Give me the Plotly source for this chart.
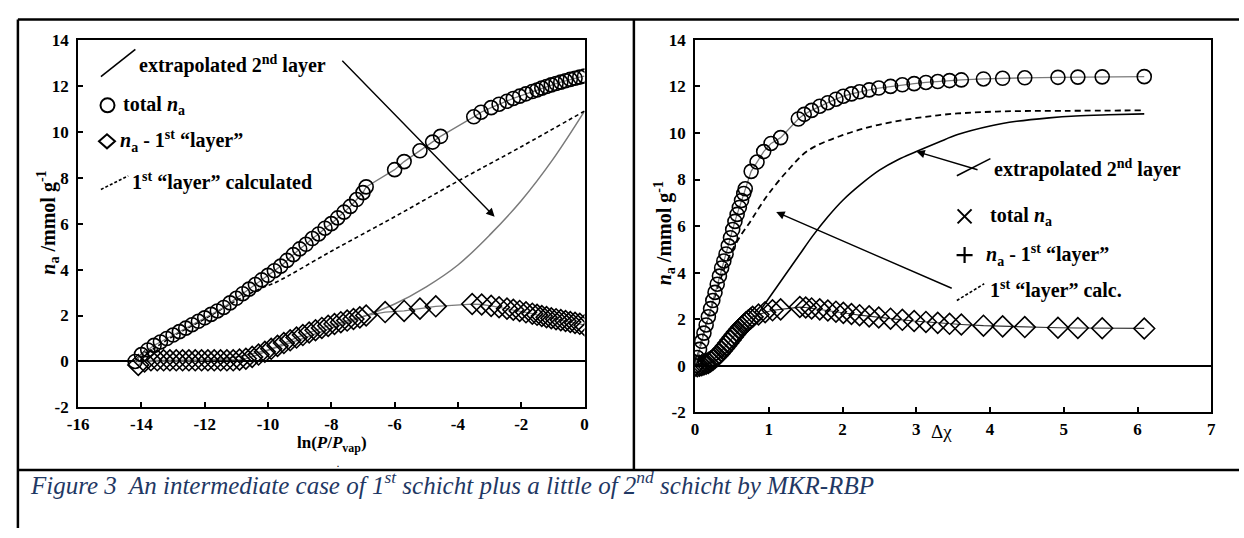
import plotly.graph_objects as go

# ---------------- Left panel data: n_a vs ln(P/Pvap) ----------------
lnp_total = [-14.2, -14.0, -13.8, -13.6, -13.4, -13.2, -13.0, -12.8, -12.6, -12.4,
             -12.2, -12.0, -11.8, -11.6, -11.4, -11.2, -11.0, -10.8, -10.6, -10.4,
             -10.2, -10.0, -9.8, -9.6, -9.4, -9.2, -9.0, -8.8, -8.6, -8.4,
             -8.2, -8.0, -7.8, -7.6, -7.4, -7.2, -7.0, -6.9,
             -6.0, -5.7, -5.2, -4.8, -4.55,
             -3.5, -3.27, -2.95, -2.7, -2.45, -2.25, -2.05, -1.85, -1.65, -1.5,
             -1.35, -1.2, -1.05, -0.9, -0.75, -0.6, -0.45, -0.3, -0.15, 0.0]
na_total_left = [0.0, 0.3, 0.5, 0.7, 0.85, 1.0, 1.15, 1.3, 1.45, 1.6,
                 1.75, 1.9, 2.05, 2.2, 2.35, 2.55, 2.75, 2.95, 3.15, 3.35,
                 3.55, 3.75, 3.95, 4.15, 4.4, 4.65, 4.9, 5.1, 5.35, 5.55,
                 5.8, 6.0, 6.25, 6.5, 6.75, 7.05, 7.35, 7.6,
                 8.35, 8.7, 9.17, 9.55, 9.8,
                 10.65, 10.85, 11.05, 11.2, 11.33, 11.45, 11.55, 11.65, 11.75, 11.82,
                 11.9, 11.97, 12.04, 12.1, 12.16, 12.22, 12.28, 12.33, 12.38, 12.42]

lnp_second = [-14.1, -13.9, -13.7, -13.5, -13.3, -13.1, -12.9, -12.7, -12.5, -12.3,
              -12.1, -11.9, -11.7, -11.5, -11.3, -11.1, -10.9, -10.7, -10.5, -10.3,
              -10.1, -9.9, -9.7, -9.5, -9.3, -9.1, -8.9, -8.7, -8.5, -8.3,
              -8.1, -7.9, -7.7, -7.5, -7.3, -7.1, -6.9,
              -6.3, -5.7, -5.2, -4.7,
              -3.55, -3.25, -2.95, -2.7, -2.45, -2.25, -2.05, -1.85, -1.65, -1.5,
              -1.35, -1.2, -1.05, -0.9, -0.75, -0.6, -0.45, -0.3, -0.15, 0.0]
na_second_left = [-0.15, 0.0, 0.05, 0.05, 0.05, 0.05, 0.05, 0.05, 0.05, 0.05,
                  0.05, 0.05, 0.05, 0.05, 0.05, 0.05, 0.08, 0.12, 0.2, 0.3,
                  0.42, 0.55, 0.68, 0.8, 0.92, 1.04, 1.15, 1.26, 1.36, 1.46,
                  1.55, 1.63, 1.71, 1.78, 1.85, 1.92, 2.0,
                  2.15, 2.2, 2.3, 2.4,
                  2.5, 2.48, 2.42, 2.36, 2.3, 2.25, 2.2, 2.14, 2.08, 2.03,
                  1.98, 1.93, 1.88, 1.84, 1.8, 1.76, 1.72, 1.68, 1.64, 1.58]

lnp_first_calc = [-14.2, -13.0, -12.0, -11.0, -10.2, -9.73, -8.0, -6.0, -4.0, -2.0, 0.0]
na_first_calc_left = [0.0, 1.1, 1.85, 2.65, 3.2, 3.46, 4.8, 6.3, 7.85, 9.35, 10.9]

lnp_extrap = [-14.2, -13.0, -12.0, -11.0, -10.0, -9.0, -8.0, -7.0, -6.0, -5.0,
              -4.0, -3.0, -2.0, -1.0, 0.0]
na_extrap_left = [0.0, 0.02, 0.05, 0.2, 0.5, 0.95, 1.45, 1.95, 2.5, 3.25,
                  4.2, 5.5, 7.0, 8.8, 10.9]

# ---------------- Right panel data: n_a vs delta chi ----------------
dchi_total = [0.0, 0.03, 0.06, 0.09, 0.12, 0.15, 0.18, 0.21, 0.24, 0.27,
              0.30, 0.33, 0.36, 0.39, 0.42, 0.45, 0.48, 0.51, 0.54, 0.57,
              0.60, 0.63, 0.66, 0.68,
              0.76, 0.84, 0.93, 1.03, 1.16,
              1.40, 1.48, 1.58, 1.69, 1.80, 1.91, 2.01, 2.12, 2.23, 2.36,
              2.49, 2.65, 2.81, 2.97, 3.13, 3.29, 3.45, 3.61, 3.91, 4.17,
              4.47, 4.92, 5.19, 5.52, 6.09]
na_total_right = [0.0, 0.35, 0.7, 1.05, 1.4, 1.75, 2.1, 2.45, 2.8, 3.15,
                  3.5, 3.85, 4.2, 4.5, 4.8, 5.15, 5.5, 5.85, 6.2, 6.5,
                  6.8, 7.1, 7.4, 7.6,
                  8.35, 8.75, 9.2, 9.55, 9.8,
                  10.6, 10.8, 10.97, 11.15, 11.3, 11.45, 11.58, 11.68, 11.77, 11.85,
                  11.93, 12.0, 12.07, 12.12, 12.17, 12.21, 12.25, 12.28, 12.32, 12.35,
                  12.37, 12.39, 12.4, 12.41, 12.42]

dchi_second = [0.0, 0.03, 0.06, 0.09, 0.12, 0.15, 0.18, 0.21, 0.24, 0.27,
               0.30, 0.33, 0.36, 0.39, 0.42, 0.45, 0.48, 0.51, 0.54, 0.57,
               0.60, 0.63, 0.66, 0.69, 0.72, 0.75, 0.78,
               0.86, 0.95, 1.05, 1.16,
               1.42, 1.50, 1.58, 1.69, 1.80, 1.91, 2.01, 2.12, 2.23, 2.36,
               2.49, 2.65, 2.81, 2.97, 3.13, 3.29, 3.45, 3.61, 3.91, 4.17,
               4.47, 4.92, 5.19, 5.52, 6.09]
na_second_right = [0.0, -0.02, 0.0, 0.02, 0.05, 0.08, 0.12, 0.18, 0.25, 0.33,
                   0.42, 0.52, 0.63, 0.74, 0.86, 0.98, 1.1, 1.22, 1.34, 1.46,
                   1.57, 1.67, 1.77, 1.86, 1.94, 2.02, 2.1,
                   2.2, 2.3, 2.38, 2.42,
                   2.52, 2.5, 2.46, 2.42, 2.37, 2.32, 2.27, 2.22, 2.17, 2.12,
                   2.07, 2.02, 1.97, 1.92, 1.88, 1.84, 1.8, 1.77, 1.72, 1.69,
                   1.66, 1.63, 1.62, 1.61, 1.6]

dchi_first_calc = [0.0, 0.2, 0.45, 0.6, 0.75, 0.86, 1.0, 1.26, 1.53, 1.96,
                   2.49, 3.29, 4.09, 5.0, 6.09]
na_first_calc_right = [0.0, 2.3, 4.6, 5.5, 6.2, 6.75, 7.4, 8.4, 9.24, 9.86,
                       10.35, 10.76, 10.92, 10.95, 10.97]

dchi_extrap = [0.0, 0.2, 0.4, 0.6, 0.8, 1.0, 1.2, 1.4, 1.6, 1.8,
               2.0, 2.25, 2.5, 2.75, 3.0, 3.3, 3.56, 4.0, 4.36, 4.8,
               5.16, 5.6, 6.09]
na_extrap_right = [0.0, 0.1, 0.5, 1.2, 2.0, 2.9, 3.8, 4.7, 5.6, 6.4,
                   7.1, 7.8, 8.4, 8.85, 9.2, 9.6, 9.93, 10.3, 10.5, 10.65,
                   10.73, 10.78, 10.82]

x_ticks_left = [-16, -14, -12, -10, -8, -6, -4, -2, 0]
x_ticks_right = [0, 1, 2, 3, 4, 5, 6, 7]
y_ticks = [-2, 0, 2, 4, 6, 8, 10, 12, 14]

FONT = "Liberation Serif, Times New Roman, serif"
GRAY = "#7a7a7a"
W, H = 1244, 538


def PX(p):
    return p / W


def PY(p):
    return 1 - p / H


fig = go.Figure()

# left traces
fig.add_trace(go.Scatter(x=lnp_extrap, y=na_extrap_left, mode="lines",
                         line=dict(color=GRAY, width=1.5, shape="spline"),
                         xaxis="x", yaxis="y"))
fig.add_trace(go.Scatter(x=lnp_first_calc, y=na_first_calc_left, mode="lines",
                         line=dict(color="black", width=1.6, dash="4px,3px", shape="spline"),
                         xaxis="x", yaxis="y"))
fig.add_trace(go.Scatter(x=lnp_second, y=na_second_left, mode="lines+markers",
                         line=dict(color=GRAY, width=1.3),
                         marker=dict(symbol="diamond-open", size=16, color="black",
                                     line=dict(width=1.6)),
                         xaxis="x", yaxis="y"))
fig.add_trace(go.Scatter(x=lnp_total, y=na_total_left, mode="lines+markers",
                         line=dict(color=GRAY, width=1.3),
                         marker=dict(symbol="circle-open", size=14, color="black",
                                     line=dict(width=1.6)),
                         xaxis="x", yaxis="y"))

# right traces
fig.add_trace(go.Scatter(x=dchi_extrap, y=na_extrap_right, mode="lines",
                         line=dict(color="black", width=1.6, shape="spline"),
                         xaxis="x2", yaxis="y2"))
fig.add_trace(go.Scatter(x=dchi_first_calc, y=na_first_calc_right, mode="lines",
                         line=dict(color="black", width=1.8, dash="6px,4px", shape="spline"),
                         xaxis="x2", yaxis="y2"))
fig.add_trace(go.Scatter(x=dchi_second, y=na_second_right, mode="lines+markers",
                         line=dict(color="#333333", width=1.2),
                         marker=dict(symbol="diamond-open", size=16, color="black",
                                     line=dict(width=1.6)),
                         xaxis="x2", yaxis="y2"))
fig.add_trace(go.Scatter(x=dchi_total, y=na_total_right, mode="lines+markers",
                         line=dict(color=GRAY, width=1.3),
                         marker=dict(symbol="circle-open", size=14, color="black",
                                     line=dict(width=1.6)),
                         xaxis="x2", yaxis="y2"))

tickfont = dict(family=FONT, size=17, color="black", weight="bold")
axis_common = dict(showline=True, mirror=True, linecolor="black", linewidth=2,
                   ticks="inside", ticklen=5, tickwidth=1.5, tickcolor="black",
                   showgrid=False, tickfont=tickfont, fixedrange=True)


def ascii_labels(vals):
    return [str(v) for v in vals]


fig.update_layout(
    width=W, height=H, margin=dict(l=0, r=0, t=0, b=0),
    paper_bgcolor="white", plot_bgcolor="white", showlegend=False,
    xaxis=dict(domain=[PX(68), PX(581)], range=[-16, 0], tickvals=x_ticks_left,
               ticktext=ascii_labels(x_ticks_left),
               zeroline=False, anchor="y", ticklabelstandoff=0, **axis_common),
    yaxis=dict(domain=[PY(413), PY(32)], range=[-2, 14], tickvals=y_ticks,
               ticktext=ascii_labels(y_ticks),
               zeroline=True, zerolinecolor="black", zerolinewidth=1.8, anchor="x",
               ticklabelstandoff=4, **axis_common),
    xaxis2=dict(domain=[PX(693), PX(1216)], range=[0, 7], tickvals=x_ticks_right,
                ticktext=ascii_labels(x_ticks_right),
                zeroline=False, anchor="y2", ticklabelstandoff=0, **axis_common),
    yaxis2=dict(domain=[PY(418), PY(32)], range=[-2, 14], tickvals=y_ticks,
                ticktext=ascii_labels(y_ticks),
                zeroline=True, zerolinecolor="black", zerolinewidth=1.8, anchor="x2",
                ticklabelstandoff=4, **axis_common),
)

ann = []


def txt(xref, yref, x, y, text, size=20, xanchor="left", **kw):
    ann.append(dict(xref=xref, yref=yref, x=x, y=y, text=text, showarrow=False,
                    xanchor=xanchor, yanchor="middle",
                    font=dict(family=FONT, size=size, color="black"), **kw))


# left legend texts
txt("x domain", "y domain", 0.117, 0.934, "<b>extrapolated 2<sup>nd</sup> layer</b>")
txt("x domain", "y domain", 0.084, 0.822, "<b>total <i>n</i><sub>a</sub></b>")
txt("x domain", "y domain", 0.078, 0.724, "<b><i>n</i><sub>a</sub> - 1<sup>st</sup> \u201clayer\u201d</b>")
txt("x domain", "y domain", 0.103, 0.616, "<b>1<sup>st</sup> \u201clayer\u201d calculated</b>")
# right legend texts
txt("x2 domain", "y2 domain", 0.576, 0.655, "<b>extrapolated 2<sup>nd</sup> layer</b>")
txt("x2 domain", "y2 domain", 0.568, 0.526, "<b>total <i>n</i><sub>a</sub></b>")
txt("x2 domain", "y2 domain", 0.560, 0.422, "<b><i>n</i><sub>a</sub> - 1<sup>st</sup> \u201clayer\u201d</b>")
txt("x2 domain", "y2 domain", 0.568, 0.330, "<b>1<sup>st</sup> \u201clayer\u201d calc.</b>")

# axis titles
txt("paper", "paper", PX(38), PY(222), "<b><i>n</i><sub>a</sub> /mmol g<sup>-1</sup></b>",
    size=20, xanchor="center", textangle=-90)
txt("paper", "paper", PX(662), PY(232), "<b><i>n</i><sub>a</sub> /mmol g<sup>-1</sup></b>",
    size=20, xanchor="center", textangle=-90)
txt("paper", "paper", PX(325), PY(451), "<b>ln(<i>P</i>/<i>P</i><sub>vap</sub>)</b>",
    size=17, xanchor="center")
txt("paper", "paper", PX(331), PY(472), "<b>.</b>", size=8, xanchor="center")
txt("paper", "paper", PX(943), PY(438), "\u0394\u03c7", size=19, xanchor="center")

# caption
ann.append(dict(xref="paper", yref="paper", x=PX(17), y=PY(491), showarrow=False,
                xanchor="left", yanchor="middle",
                text="<i>Figure 3  An intermediate case of 1<sup>st</sup> schicht plus a little of "
                     "2<sup>nd</sup> schicht by MKR-RBP</i>",
                font=dict(family=FONT, size=25, color="#1f3864")))

# arrows
ann.append(dict(xref="x", yref="y", axref="x", ayref="y", x=-2.84, y=6.3, ax=-7.7, ay=13.16,
                text="", showarrow=True, arrowhead=2, arrowsize=1.2, arrowwidth=1.4,
                arrowcolor="black"))
ann.append(dict(xref="x2", yref="y2", axref="x2", ayref="y2", x=3.0, y=9.2, ax=3.85, ay=8.4,
                text="", showarrow=True, arrowhead=2, arrowsize=1.2, arrowwidth=1.4,
                arrowcolor="black"))
ann.append(dict(xref="x2", yref="y2", axref="x2", ayref="y2", x=1.1, y=6.6, ax=3.5, ay=3.3,
                text="", showarrow=True, arrowhead=2, arrowsize=1.2, arrowwidth=1.4,
                arrowcolor="black"))

fig.update_layout(annotations=ann)

shapes = []


def pline(x0, y0, x1, y1, w=2.5):
    shapes.append(dict(type="line", xref="paper", yref="paper",
                       x0=PX(x0), y0=PY(y0), x1=PX(x1), y1=PY(y1),
                       line=dict(color="black", width=w)))


# table borders
pline(7, 11, 1244, 11)
pline(7, 11, 7, 538)
pline(631, 11, 631, 478)
pline(7, 478, 1244, 478)


def dline(xr, yr, x0, y0, x1, y1, dash="solid", w=1.6):
    shapes.append(dict(type="line", xref=xr, yref=yr, x0=x0, y0=y0, x1=x1, y1=y1,
                       line=dict(color="black", width=w, dash=dash)))


# legend line symbols
dline("x domain", "y domain", 0.045, 0.900, 0.113, 0.974)
dline("x domain", "y domain", 0.045, 0.593, 0.099, 0.630, dash="3px,2px")
dline("x2 domain", "y2 domain", 0.507, 0.635, 0.572, 0.681)
dline("x2 domain", "y2 domain", 0.507, 0.300, 0.560, 0.345, dash="3px,2px")


def pix_shape(xr, yr, xa, ya, path=None, kind="path", r=7, w=2):
    s = dict(xref=xr, yref=yr, xsizemode="pixel", ysizemode="pixel",
             xanchor=xa, yanchor=ya, line=dict(color="black", width=w))
    if kind == "circle":
        s.update(type="circle", x0=-r, x1=r, y0=-r, y1=r)
    else:
        s.update(type="path", path=path)
    shapes.append(s)


pix_shape("x domain", "y domain", 0.058, 0.822, kind="circle", r=7)
pix_shape("x domain", "y domain", 0.057, 0.724, path="M -8 0 L 0 7 L 8 0 L 0 -7 Z")
pix_shape("x2 domain", "y2 domain", 0.522, 0.526, path="M -7 -7 L 7 7 M -7 7 L 7 -7")
pix_shape("x2 domain", "y2 domain", 0.522, 0.422, path="M -8 0 L 8 0 M 0 -8 L 0 8", w=2.2)

fig.update_layout(shapes=shapes)

fig.write_html("out.html", config={"displayModeBar": False},
               post_script="document.body.style.margin='0';document.body.style.padding='0';"
                           "document.body.style.overflow='hidden';")
